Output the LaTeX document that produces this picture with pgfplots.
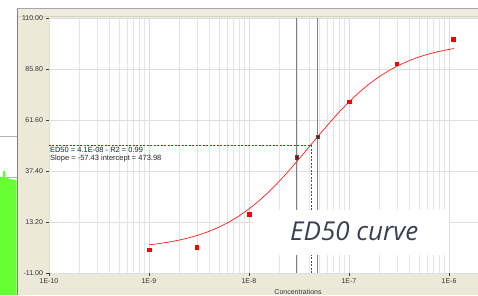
\documentclass[border=0pt]{standalone}
\usepackage{pgfplots}
\pgfplotsset{compat=1.18}
\usepackage{fontspec}
\setmainfont{Liberation Sans}
\newfontfamily\ovl{Open Sans}
\definecolor{beige}{RGB}{236,233,216}
\definecolor{blob}{RGB}{102,255,51}
\definecolor{ovltext}{RGB}{59,64,80}
\begin{document}
\begin{tikzpicture}[x=1pt,y=1pt]
\useasboundingbox (0,0) rectangle (478,295);
\clip (0,0) rectangle (478,295);
\fill[white] (0,0) rectangle (478,295);
\fill[beige] (17,0) rectangle (478,286.3);
\fill[beige!85!white] (17,278.5) rectangle (478,286.3);
\draw[gray!70, line width=0.8] (17,286.3) -- (478,286.3);
\draw[beige!80!gray, line width=0.6] (17,278.3) -- (478,278.3);
\fill[blob] (0,0) -- (0,118) -- (2.5,118) -- (3,124) -- (5,124) -- (5.5,118) -- (10,116) -- (16.5,115) -- (16.5,0) -- cycle;
\draw[gray!60] (0,159) -- (17,159);
\draw[gray!60] (5,118) -- (16.5,118);
\draw[gray, line width=1.5] (17.5,0) -- (17.5,286.3);
\begin{axis}[at={(49pt,22pt)}, anchor=south west, scale only axis,
  width=429pt, height=255pt,
  xmode=log, xmin=1e-10, xmax=1.95e-6, ymin=-11, ymax=110,
  axis background/.style={fill=white},
  xtick={1e-10,1e-9,1e-8,1e-7,1e-6},
  xticklabels={1E-10,1E-9,1E-8,1E-7,1E-6},
  ytick={-11,13.2,37.4,61.6,85.8,110},
  yticklabels={-11.00,13.20,37.40,61.60,85.80,110.00},
  grid=both,
  major grid style={black!13},
  minor grid style={black!10},
  axis line style={draw=none},
  tick align=outside, major tick length=3pt, minor tick length=0pt,
  tick style={black!75, line width=0.6pt},
  xtick pos=left, ytick pos=left,
  tick label style={font=\fontsize{7}{8}\selectfont, text=black!80},
  yticklabel style={xshift=0.5pt},
  xticklabel style={yshift=1pt},
]
\addplot[black!50, line width=1.3pt] coordinates {(3e-8,-11) (3e-8,110)};
\addplot[black!50, line width=1.3pt] coordinates {(4.87e-8,-11) (4.87e-8,110)};
\addplot[red, line width=0.5pt, dash pattern=on 2pt off 1.5pt] coordinates {(1e-10,49.7) (4.2e-8,49.7) (4.2e-8,-11)};
\addplot[red!90!white, line width=0.7pt] table {
x y
1e-9 2.356
1.2589e-9 2.948
1.5849e-9 3.683
1.9953e-9 4.592
2.5119e-9 5.713
3.1623e-9 7.087
3.9811e-9 8.761
5.0119e-9 10.78
6.3096e-9 13.20
7.9433e-9 16.06
1e-8 19.40
1.2589e-8 23.25
1.5849e-8 27.59
1.9953e-8 32.40
2.5119e-8 37.60
3.1623e-8 43.10
3.9811e-8 48.77
5.0119e-8 54.44
6.3096e-8 60.00
7.9433e-8 65.29
1e-7 70.20
1.2589e-7 74.67
1.5849e-7 78.65
1.9953e-7 82.12
2.5119e-7 85.10
3.1623e-7 87.63
3.9811e-7 89.75
5.0119e-7 91.51
6.3096e-7 92.96
7.9433e-7 94.14
1e-6 95.10
1.122e-6 95.51
};
\addplot[only marks, mark=square*, mark size=1.8pt, draw=red, fill=red] coordinates {(1e-9,0.1) (3e-9,1.2) (1e-8,16.9) (1e-7,70.2) (3e-7,88.4) (1.1e-6,99.8)};
\addplot[only marks, mark=square*, mark size=1.8pt, draw=black!70, fill=red!60!black] coordinates {(3e-8,44.0) (4.87e-8,53.7)};
\node[anchor=north west, font=\fontsize{7.5}{7.6}\selectfont, align=left, inner sep=0pt, text=black!85] at (axis cs:1.02e-10,48.6) {ED50 = 4.1E-08 - R2 = 0.99\\Slope = -57.43 intercept = 473.98};
\end{axis}
\fill[white] (253,40) rectangle (449,85);
\node[anchor=base west, inner sep=0pt, font=\ovl\itshape\fontsize{26}{30}\selectfont, text=ovltext] at (290,54.3) {ED50 curve};
\node[font=\fontsize{7}{8}\selectfont, text=black!80] at (298,3.3) {Concentrations};
\end{tikzpicture}
\end{document}
